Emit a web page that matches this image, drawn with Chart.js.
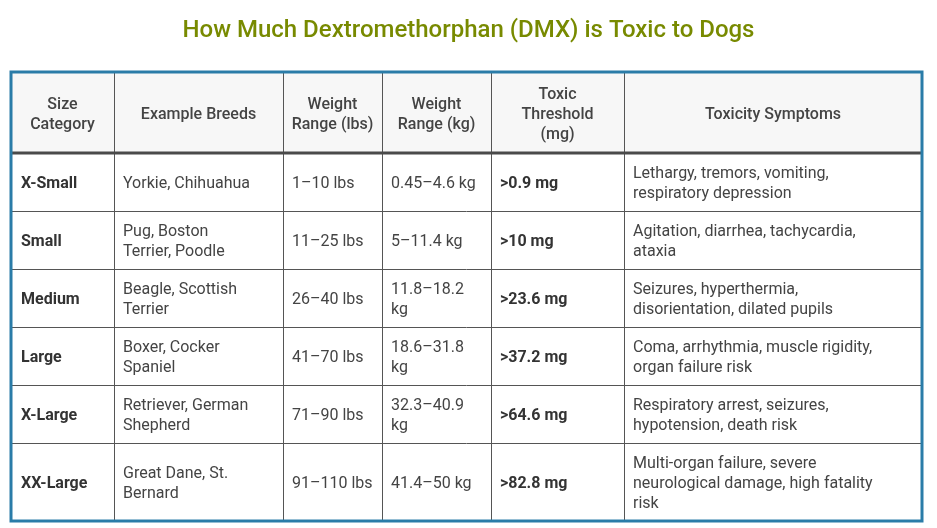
<!DOCTYPE html>
<html>
<head>
<meta charset="utf-8">
<script src="https://cdn.jsdelivr.net/npm/chart.js@4"></script>
<style>
  body { margin: 0; background: #fff; }
  #wrap { width: 937px; height: 528px; }
</style>
</head>
<body>
<div id="wrap"><canvas id="table"></canvas></div>
<script>
// table data
const headers = ['Size\nCategory', 'Example Breeds', 'Weight\nRange (lbs)', 'Weight\nRange (kg)', 'Toxic\nThreshold\n(mg)', 'Toxicity Symptoms'];
const sizes = ['X-Small', 'Small', 'Medium', 'Large', 'X-Large', 'XX-Large'];
const breeds = ['Yorkie, Chihuahua', 'Pug, Boston\nTerrier, Poodle', 'Beagle, Scottish\nTerrier', 'Boxer, Cocker\nSpaniel', 'Retriever, German\nShepherd', 'Great Dane, St.\nBernard'];
const weightLbs = ['1–10 lbs', '11–25 lbs', '26–40 lbs', '41–70 lbs', '71–90 lbs', '91–110 lbs'];
const weightKg = ['0.45–4.6 kg', '5–11.4 kg', '11.8–18.2\nkg', '18.6–31.8\nkg', '32.3–40.9\nkg', '41.4–50 kg'];
const threshold = ['>0.9 mg', '>10 mg', '>23.6 mg', '>37.2 mg', '>64.6 mg', '>82.8 mg'];
const symptoms = ['Lethargy, tremors, vomiting,\nrespiratory depression', 'Agitation, diarrhea, tachycardia,\nataxia', 'Seizures, hyperthermia,\ndisorientation, dilated pupils', 'Coma, arrhythmia, muscle rigidity,\norgan failure risk', 'Respiratory arrest, seizures,\nhypotension, death risk', 'Multi-organ failure, severe\nneurological damage, high fatality\nrisk'];

// layout
const colX = [11, 114, 283, 382, 491, 624, 922];
const rowY = [72, 153, 211, 269, 327, 385, 443, 521];
const boldCols = [0, 4];

const tablePlugin = {
  id: 'tablePlugin',
  afterDraw(chart) {
    const ctx = chart.ctx;
    const columns = [sizes, breeds, weightLbs, weightKg, threshold, symptoms];
    ctx.save();
    ctx.fillStyle = '#f7f7f7';
    ctx.fillRect(colX[0], rowY[0], colX[6] - colX[0], rowY[1] - rowY[0]);
    ctx.textBaseline = 'middle';
    const lh = 20;
    const drawText = (txt, x, yMid, align) => {
      const lines = txt.split('\n');
      const y0 = yMid + 2 - (lines.length - 1) * lh / 2;
      ctx.textAlign = align;
      lines.forEach((l, i) => ctx.fillText(l, x, y0 + i * lh));
    };
    // header
    ctx.fillStyle = '#444';
    ctx.font = '500 16px Roboto';
    headers.forEach((h, c) => drawText(h, (colX[c] + colX[c + 1]) / 2, (rowY[0] + rowY[1]) / 2, 'center'));
    // body
    for (let r = 0; r < sizes.length; r++) {
      const yMid = (rowY[r + 1] + rowY[r + 2]) / 2;
      columns.forEach((col, c) => {
        const bold = boldCols.includes(c);
        ctx.font = (bold ? 'bold ' : '') + '16px Roboto';
        ctx.fillStyle = bold ? '#333' : '#444';
        drawText(col[r], colX[c] + (c === 0 ? 10 : 9), yMid, 'left');
      });
    }
    // grid lines
    ctx.strokeStyle = '#555';
    ctx.lineWidth = 1;
    ctx.beginPath();
    for (let c = 1; c < colX.length - 1; c++) {
      ctx.moveTo(colX[c] + 0.5, rowY[0]);
      ctx.lineTo(colX[c] + 0.5, rowY[rowY.length - 1]);
    }
    for (let r = 2; r < rowY.length - 1; r++) {
      ctx.moveTo(colX[0], rowY[r] + 0.5);
      ctx.lineTo(colX[6], rowY[r] + 0.5);
    }
    ctx.stroke();
    ctx.strokeStyle = '#4a4a4a';
    ctx.lineWidth = 3;
    ctx.beginPath();
    ctx.moveTo(colX[0], rowY[1]);
    ctx.lineTo(colX[6], rowY[1]);
    ctx.stroke();
    ctx.strokeStyle = '#2a7ca8';
    ctx.lineWidth = 3;
    ctx.strokeRect(colX[0], rowY[0], colX[6] - colX[0], rowY[7] - rowY[0]);
    ctx.restore();
  }
};

new Chart(document.getElementById('table'), {
  type: 'scatter',
  data: { datasets: [] },
  options: {
    responsive: true,
    maintainAspectRatio: false,
    animation: false,
    plugins: {
      legend: { display: false },
      tooltip: { enabled: false },
      title: {
        display: true,
        text: 'How Much Dextromethorphan (DMX) is Toxic to Dogs',
        color: '#788a00',
        font: { family: 'Roboto', size: 24, weight: '500' },
        padding: { top: 17, bottom: 0 }
      }
    },
    scales: { x: { display: false }, y: { display: false } }
  },
  plugins: [tablePlugin]
});
</script>
</body>
</html>
